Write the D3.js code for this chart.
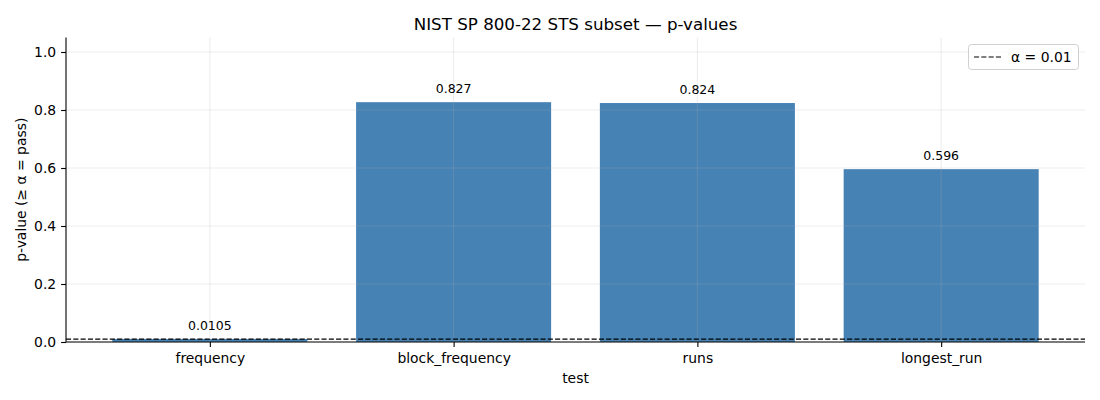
<!DOCTYPE html>
<html><head><meta charset="utf-8">
<script src="https://cdn.jsdelivr.net/npm/d3@7"></script>
<style>body{margin:0;background:#fff}svg{font-family:"DejaVu Sans",sans-serif}</style>
</head><body><svg id="c" width="1100" height="400"></svg>
<script>
const categories = ["frequency","block_frequency","runs","longest_run"];
const pvalues = [0.0105, 0.827, 0.824, 0.596];
const valueLabels = ["0.0105","0.827","0.824","0.596"];
const yTicks = [0.0,0.2,0.4,0.6,0.8,1.0];
const alpha = 0.01;

const svg = d3.select("#c");
const L=66,R=1085,T=37.5,B=342;
const x = d3.scaleLinear().domain([-0.59,3.59]).range([L,R]);
const y = d3.scaleLinear().domain([0,1.05]).range([B,T]);
const bw = 0.8;

svg.append("g").selectAll("rect").data(pvalues).join("rect")
  .attr("x",(d,i)=>x(i-bw/2)).attr("width",x(bw)-x(0))
  .attr("y",d=>y(d)).attr("height",d=>y(0)-y(d)).attr("fill","#4682b4");

// grid
const g = svg.append("g").attr("stroke","#b0b0b0").attr("stroke-opacity",0.3).attr("stroke-width",0.8);
yTicks.forEach(t=>g.append("line").attr("x1",L).attr("x2",R).attr("y1",y(t)).attr("y2",y(t)));
categories.forEach((c,i)=>g.append("line").attr("x1",x(i)).attr("x2",x(i)).attr("y1",T).attr("y2",B));

// alpha line
svg.append("line").attr("x1",L).attr("x2",R).attr("y1",y(alpha)).attr("y2",y(alpha))
  .attr("stroke","#000").attr("stroke-width",1.2).attr("stroke-dasharray","5.1,2.2");

// value labels
svg.append("g").selectAll("text").data(pvalues).join("text")
  .attr("x",(d,i)=>x(i)).attr("y",d=>y(d)-9).attr("text-anchor","middle")
  .attr("font-size","12.5px").attr("fill","#000").text((d,i)=>valueLabels[i]);

// axes
const xa = svg.append("g").attr("transform",`translate(0,${B})`)
  .call(d3.axisBottom(x).tickValues(d3.range(categories.length)).tickFormat(i=>categories[i]).tickSize(4.9).tickPadding(6.5));
const ya = svg.append("g").attr("transform",`translate(${L},0)`)
  .call(d3.axisLeft(y).tickValues(yTicks).tickFormat(d3.format(".1f")).tickSize(4.9).tickPadding(4.9));
[xa,ya].forEach(a=>{a.selectAll("text").attr("font-size","13.9px").attr("fill","#000").attr("font-family","DejaVu Sans");
  a.selectAll("line").attr("stroke","#000").attr("stroke-width",1.1);
  a.select(".domain").attr("stroke","#000").attr("stroke-width",1.1);});
xa.select(".domain").attr("d",`M${L},0H${R}`);
ya.select(".domain").attr("d",`M0,${B}V${T}`);

// titles
svg.append("text").attr("x",(L+R)/2).attr("y",29.5).attr("text-anchor","middle").attr("font-size","16.7px").text("NIST SP 800-22 STS subset — p-values");
svg.append("text").attr("x",(L+R)/2).attr("y",382.5).attr("text-anchor","middle").attr("font-size","13.9px").text("test");
svg.append("text").attr("transform",`translate(26,${(T+B)/2}) rotate(-90)`).attr("text-anchor","middle").attr("font-size","13.9px").text("p-value (≥ α = pass)");

// legend
const lg = svg.append("g");
lg.append("rect").attr("x",968.5).attr("y",44.5).attr("width",110).attr("height",25).attr("rx",3)
  .attr("fill","#fff").attr("fill-opacity",0.8).attr("stroke","#d0d0d0");
lg.append("line").attr("x1",974).attr("x2",1002).attr("y1",57).attr("y2",57).attr("stroke","#000").attr("stroke-width",1.2).attr("stroke-dasharray","5.1,2.2");
lg.append("text").attr("x",1011).attr("y",61.8).attr("font-size","13.9px").text("α = 0.01");
</script></body></html>
